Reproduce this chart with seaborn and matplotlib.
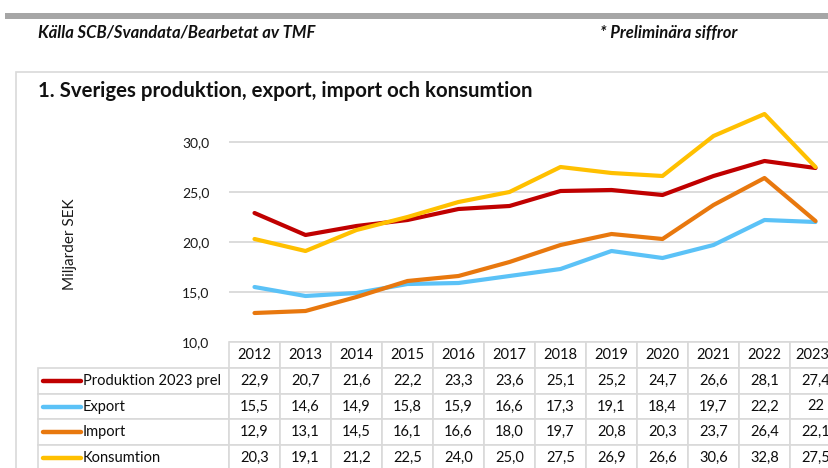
import numpy as np
import pandas as pd
import matplotlib.pyplot as plt
import matplotlib.patches as mpatches
from matplotlib.lines import Line2D
import seaborn as sns

# Data (miljarder SEK)
years = ['2012', '2013', '2014', '2015', '2016', '2017', '2018', '2019', '2020', '2021', '2022', '2023*']
serier = ['Produktion 2023 prel', 'Export', 'Import', 'Konsumtion']
produktion = [22.9, 20.7, 21.6, 22.2, 23.3, 23.6, 25.1, 25.2, 24.7, 26.6, 28.1, 27.4]
export = [15.5, 14.6, 14.9, 15.8, 15.9, 16.6, 17.3, 19.1, 18.4, 19.7, 22.2, 22]
imp = [12.9, 13.1, 14.5, 16.1, 16.6, 18.0, 19.7, 20.8, 20.3, 23.7, 26.4, 22.1]
konsumtion = [20.3, 19.1, 21.2, 22.5, 24.0, 25.0, 27.5, 26.9, 26.6, 30.6, 32.8, 27.5]
farger = ['#c00000', '#5bc2f7', '#e8780e', '#ffc000']

values = [produktion, export, imp, konsumtion]
df = pd.DataFrame({
    'pos': np.tile(np.arange(len(years)), len(serier)),
    'value': np.concatenate(values),
    'serie': np.repeat(serier, len(years)),
})


def fmt(v):
    if isinstance(v, int):
        return str(v)
    return f"{v:.1f}".replace('.', ',')


# first column is the (empty) label column, legend keys are drawn on top of it
cell_text = [[''] + [fmt(v) for v in row] for row in values]

sns.set_style("white")
plt.rcParams['font.family'] = ['Lato', 'DejaVu Sans']

W, H = 829, 468
fig = plt.figure(figsize=(W / 100, H / 100), dpi=100)

# grå list överst + ram runt diagrammet
fig.add_artist(mpatches.Rectangle((5 / W, 1 - 19 / H), 1, 6 / H, transform=fig.transFigure,
                                  color='#a6a6a6', lw=0))
fig.add_artist(mpatches.Rectangle((16 / W, -0.1), 1, 1.1 - 72 / H, transform=fig.transFigure,
                                  fill=False, edgecolor='#d9d9d9', lw=1.2))

fig.text(38 / W, 1 - 33 / H, 'Källa SCB/Svandata/Bearbetat av TMF', fontsize=12,
         fontweight='bold', fontstyle='italic', va='center', color='#111111')
fig.text(600 / W, 1 - 33 / H, '* Preliminära siffror', fontsize=12,
         fontweight='bold', fontstyle='italic', va='center', color='#111111')
fig.text(38 / W, 1 - 91 / H, '1. Sveriges produktion, export, import och konsumtion',
         fontsize=14.7, fontweight='bold', va='center', color='#111111')

# plot area: 12 columns of 51 px starting at x=229
col_w, lab_w, ax_h = 51, 191, 235
ax = fig.add_axes([229 / W, 1 - 342 / H, col_w * 12 / W, ax_h / H])
sns.lineplot(data=df, x='pos', y='value', hue='serie', palette=farger, linewidth=3,
             ax=ax, legend=False)
ax.set_xlim(-0.5, len(years) - 0.5)
ax.set_ylim(10, 33.5)
ax.set_yticks([10, 15, 20, 25, 30])
ax.set_yticklabels([fmt(float(t)) for t in [10, 15, 20, 25, 30]], fontsize=10, color='#1a1a1a')
ax.set_xticks([])
ax.set_xlabel('')
ax.set_ylabel('Miljarder SEK', fontsize=11, color='#1a1a1a')
ax.yaxis.set_label_coords((77 - 229) / (col_w * 12), (342 - 244) / ax_h)
ax.tick_params(axis='y', length=0, pad=14)
ax.yaxis.grid(True, color='#d9d9d9', lw=1.3)
ax.set_axisbelow(True)
for s in ax.spines.values():
    s.set_visible(False)

# data table under the chart
tab_w = lab_w + col_w * 12
row_h = 25.8
tab_h = row_h * 5
tbl = ax.table(cellText=cell_text, colLabels=[''] + years,
               colWidths=[lab_w / tab_w] + [col_w / tab_w] * 12,
               cellLoc='center',
               bbox=[-lab_w / (col_w * 12), -tab_h / ax_h, tab_w / (col_w * 12), tab_h / ax_h])
tbl.auto_set_font_size(False)
tbl.set_fontsize(10.5)
for cell in tbl.get_celld().values():
    cell.set_edgecolor('#d9d9d9')
    cell.set_linewidth(1.2)
    cell.get_text().set_color('#0d0d0d')
tbl[0, 0].set_visible(False)

# legend keys inside the row label cells
for i, (namn, c) in enumerate(zip(serier, farger)):
    yc = 1 - (342 + row_h * (i + 1) + row_h / 2) / H
    fig.add_artist(Line2D([43 / W, 81 / W], [yc, yc], transform=fig.transFigure, color=c, lw=3.2))
    fig.text(83 / W, yc, namn, fontsize=10.5, va='center', color='#0d0d0d')

fig.savefig('out.png', dpi=100)
